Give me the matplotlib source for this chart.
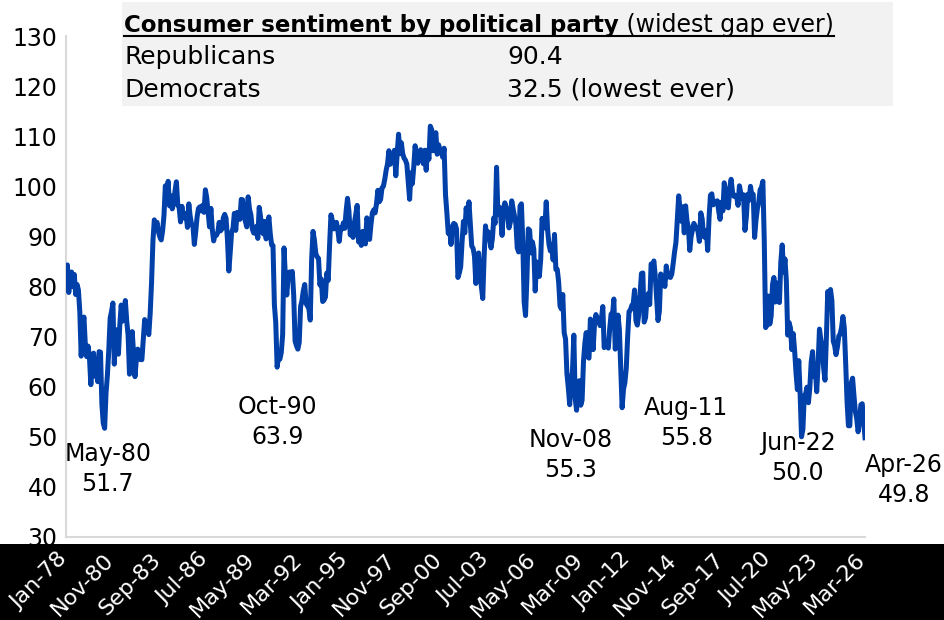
import pandas as pd
import matplotlib.pyplot as plt
from matplotlib.patches import Rectangle
from matplotlib.lines import Line2D
from matplotlib.transforms import ScaledTranslation

plt.rcParams["font.family"] = ["DejaVu Sans"]

# ============================================================
# データ (ミシガン大学 消費者センチメント, 月次)
# ============================================================
START = "1978-01-01"

sentiment = [
    83.7, 84.3, 78.8, 81.6, 82.9, 80.0, 82.4, 78.4, 80.4, 79.3, 75.0, 66.1,    # 1978
    72.1, 73.9, 68.4, 66.0, 68.1, 65.8, 60.4, 64.5, 66.7, 62.1, 63.3, 61.0,    # 1979
    67.0, 66.9, 56.5, 52.7, 51.7, 58.7, 62.3, 67.3, 73.7, 75.0, 76.7, 64.5,    # 1980
    71.4, 66.9, 66.5, 72.4, 76.3, 73.1, 74.1, 77.2, 73.1, 70.3, 62.5, 64.3,    # 1981
    71.0, 66.5, 62.0, 65.5, 67.5, 65.7, 65.4, 65.4, 69.3, 73.4, 72.1, 71.9,    # 1982
    70.4, 74.6, 80.8, 89.1, 93.3, 92.2, 92.8, 90.9, 89.9, 89.3, 91.1, 94.2,    # 1983
    100.1, 97.4, 101.0, 96.1, 98.1, 95.5, 96.6, 99.1, 100.9, 96.3, 95.7, 92.9,  # 1984
    96.0, 93.7, 93.7, 94.6, 91.8, 96.5, 94.0, 92.4, 92.1, 88.4, 90.9, 93.9,    # 1985
    95.6, 95.9, 95.1, 96.2, 94.8, 99.3, 97.7, 94.9, 91.9, 95.6, 91.4, 89.1,    # 1986
    90.4, 90.2, 90.8, 92.8, 91.1, 91.5, 93.7, 94.4, 93.6, 89.3, 83.1, 86.8,    # 1987
    90.8, 91.6, 94.6, 91.2, 94.8, 94.7, 93.4, 97.4, 97.3, 94.1, 93.0, 91.9,    # 1988
    97.9, 95.4, 94.3, 91.5, 90.7, 90.6, 92.0, 89.6, 95.8, 93.9, 90.9, 90.5,    # 1989
    93.0, 89.5, 91.3, 93.9, 90.6, 88.3, 88.2, 76.4, 72.8, 63.9, 66.0, 65.5,    # 1990
    66.8, 70.4, 87.7, 81.8, 78.3, 82.1, 82.9, 82.0, 83.0, 78.3, 69.1, 68.2,    # 1991
    67.5, 68.8, 76.0, 77.2, 79.2, 80.4, 76.6, 76.1, 75.6, 73.3, 85.3, 91.0,    # 1992
    89.3, 86.6, 85.9, 85.6, 80.3, 81.5, 77.0, 77.3, 77.9, 82.7, 81.2, 88.2,    # 1993
    94.3, 93.2, 91.5, 92.6, 92.8, 91.2, 89.0, 91.7, 91.5, 92.7, 91.6, 95.1,    # 1994
    97.6, 95.1, 90.3, 92.5, 89.8, 92.7, 94.4, 96.2, 88.9, 90.2, 88.2, 91.0,    # 1995
    89.3, 88.5, 93.7, 92.7, 89.4, 92.4, 94.7, 95.3, 94.7, 96.5, 99.2, 96.9,    # 1996
    97.4, 99.7, 100.0, 101.4, 103.2, 104.5, 107.1, 104.4, 106.0, 105.6, 107.2, 102.1,  # 1997
    106.6, 110.4, 106.5, 108.7, 106.5, 105.6, 105.2, 104.4, 100.9, 97.4, 102.7, 100.5,  # 1998
    103.9, 108.1, 105.7, 104.6, 106.8, 107.3, 106.0, 104.5, 107.2, 103.2, 107.2, 105.4,  # 1999
    112.0, 111.3, 107.1, 109.2, 110.7, 106.4, 108.3, 107.3, 106.8, 105.8, 107.6, 98.4,  # 2000
    94.7, 90.6, 91.5, 88.4, 92.0, 92.6, 92.4, 91.5, 81.8, 82.7, 83.9, 88.8,    # 2001
    93.0, 90.7, 95.7, 93.0, 96.9, 92.4, 88.1, 87.6, 86.1, 80.6, 84.2, 86.7,    # 2002
    82.4, 79.9, 77.6, 86.0, 92.1, 89.7, 90.9, 89.3, 87.7, 89.6, 93.7, 92.6,    # 2003
    103.8, 94.4, 95.8, 94.2, 90.2, 95.6, 96.7, 95.9, 94.2, 91.7, 92.8, 97.1,   # 2004
    95.5, 94.1, 92.6, 87.7, 86.9, 96.0, 96.5, 89.1, 76.9, 74.2, 81.6, 91.5,    # 2005
    91.2, 86.7, 88.9, 87.4, 79.1, 84.9, 84.7, 82.0, 85.4, 93.6, 92.1, 91.7,    # 2006
    96.9, 91.3, 88.4, 87.1, 88.3, 85.3, 90.4, 83.4, 83.4, 80.9, 76.1, 75.5,    # 2007
    78.4, 70.8, 69.5, 62.6, 59.8, 56.4, 61.2, 63.0, 70.3, 57.6, 55.3, 60.1,    # 2008
    61.2, 56.3, 57.3, 65.1, 68.7, 70.8, 66.0, 65.7, 73.5, 70.6, 67.4, 72.5,    # 2009
    74.4, 73.6, 73.6, 72.2, 73.6, 76.0, 67.8, 68.9, 68.2, 67.7, 71.6, 74.5,    # 2010
    74.2, 77.5, 67.5, 69.8, 74.3, 71.5, 63.7, 55.8, 59.5, 60.8, 63.7, 69.9,    # 2011
    75.0, 75.3, 76.2, 76.4, 79.3, 73.2, 72.3, 74.3, 78.3, 82.6, 82.7, 72.9,    # 2012
    73.8, 77.6, 78.6, 76.4, 84.5, 84.1, 85.1, 82.1, 77.5, 73.2, 75.1, 82.5,    # 2013
    81.2, 81.6, 80.0, 84.1, 81.9, 82.5, 81.8, 82.5, 84.6, 86.9, 88.8, 93.6,    # 2014
    98.1, 95.4, 93.0, 95.9, 90.7, 96.1, 93.1, 91.9, 87.2, 90.0, 91.3, 92.6,    # 2015
    92.0, 91.7, 91.0, 89.0, 94.7, 93.5, 90.0, 89.8, 91.2, 87.2, 93.8, 98.2,    # 2016
    98.5, 96.3, 96.9, 97.0, 97.1, 95.0, 93.4, 96.8, 95.1, 100.7, 98.5, 95.9,   # 2017
    95.7, 99.7, 101.4, 98.8, 98.0, 98.2, 97.9, 96.2, 100.1, 98.6, 97.5, 98.3,  # 2018
    91.2, 93.8, 98.4, 97.2, 100.0, 98.2, 98.4, 89.8, 93.2, 95.5, 96.8, 99.3,   # 2019
    99.8, 101.0, 89.1, 71.8, 72.3, 78.1, 72.5, 74.1, 80.4, 81.8, 76.9, 80.7,   # 2020
    79.0, 76.8, 84.9, 88.3, 82.9, 85.5, 81.2, 70.3, 72.8, 71.7, 67.4, 70.6,    # 2021
    67.2, 62.8, 59.4, 65.2, 58.4, 50.0, 51.5, 58.2, 58.6, 59.9, 56.8, 59.7,    # 2022
    64.9, 67.0, 62.0, 63.7, 59.0, 64.4, 71.5, 69.4, 67.9, 63.8, 61.3, 69.7,    # 2023
    79.0, 76.9, 79.4, 77.2, 69.1, 68.2, 66.4, 67.9, 70.1, 70.5, 71.8, 74.0,    # 2024
    71.7, 64.7, 57.0, 52.2, 52.2, 60.7, 61.7, 58.2, 55.1, 53.6, 51.0, 52.9,    # 2025
    56.4, 56.6, 53.3, 49.8,                                                    # 2026
]

# 注記する月
ann_months = ["1980-05", "1990-10", "2008-11", "2011-08", "2022-06", "2026-04"]

# 政党別の表
party_names = ["Republicans", "Democrats"]
party_values = ["90.4", "32.5 (lowest ever)"]
table_title = "Consumer sentiment by political party"
table_note = " (widest gap ever)"

TICK_STEP = 34
LINE_COLOR = "#0040A8"
AXIS_COLOR = "#d9d9d9"

W, H = 944, 620


def fx(px):
    return px / W


def fy(py):
    return 1 - py / H


dates = pd.date_range(START, periods=len(sentiment), freq="MS")
idx = list(range(len(sentiment)))

# ============================================================
# 図
# ============================================================
fig = plt.figure(figsize=(W / 100, H / 100), dpi=100)
ax = fig.add_axes([fx(66), fy(537), fx(865) - fx(66), fy(36) - fy(537)])

# 下の黒帯
fig.patches.append(
    Rectangle((0, 0), 1, fy(544), transform=fig.transFigure,
              facecolor="black", edgecolor="none", zorder=-1)
)

ax.plot(idx, sentiment, color=LINE_COLOR, lw=3.6, solid_joinstyle="round",
        zorder=3)

ax.set_xlim(0, len(sentiment) - 1)
ax.set_ylim(30, 130)
ax.set_yticks(range(30, 131, 10))
ax.tick_params(axis="y", length=0, pad=6, labelsize=17)

tick_pos = idx[::TICK_STEP]
ax.set_xticks(tick_pos)
ax.set_xticklabels([dates[i].strftime("%b-%y") for i in tick_pos],
                   rotation=45, ha="right", va="center",
                   rotation_mode="anchor", color="white", fontsize=16)
ax.tick_params(axis="x", length=0, pad=14)
shift = ScaledTranslation(-2 / 100, 0, fig.dpi_scale_trans)
for lab in ax.get_xticklabels():
    lab.set_transform(lab.get_transform() + shift)

for s in ["top", "right"]:
    ax.spines[s].set_visible(False)
for s in ["left", "bottom"]:
    ax.spines[s].set_color(AXIS_COLOR)
    ax.spines[s].set_linewidth(1.5)

# 注記 (オフセットはピクセル)
ann_offsets_px = [(3, -41), (0, -55), (-6, -45), (64, -15), (-4, -21),
                  (39, -42)]
for m, (dx, dy) in zip(ann_months, ann_offsets_px):
    i = dates.get_loc(pd.Timestamp(m + "-01"))
    v = sentiment[i]
    ax.annotate(
        f"{dates[i].strftime('%b-%y')}\n{v:.1f}",
        xy=(i, v),
        xytext=(dx * 0.72, dy * 0.72),
        textcoords="offset points",
        ha="center",
        va="center",
        fontsize=17,
        linespacing=1.3,
        annotation_clip=False,
    )

# ============================================================
# 上の表
# ============================================================
fig.patches.append(
    Rectangle((fx(122), fy(106)), fx(893) - fx(122), fy(2) - fy(106),
              transform=fig.transFigure, facecolor="#f2f2f2",
              edgecolor="none", zorder=1)
)

t1 = fig.text(fx(124), fy(32), table_title, fontsize=16.5, fontweight="bold",
              va="baseline", ha="left", zorder=2)
fig.canvas.draw()
r = fig.canvas.get_renderer()
bb1 = t1.get_window_extent(r)
t2 = fig.text(bb1.x1 / W, fy(32), table_note, fontsize=17,
              va="baseline", ha="left", zorder=2)
bb2 = t2.get_window_extent(r)
fig.lines.append(
    Line2D([bb1.x0 / W, bb2.x1 / W], [fy(35.5), fy(35.5)],
           transform=fig.transFigure, color="black", lw=1.5, zorder=2)
)

for k, (name, val) in enumerate(zip(party_names, party_values)):
    yb = 64 + k * 33
    fig.text(fx(124), fy(yb), name, fontsize=18, va="baseline", zorder=2)
    fig.text(fx(507), fy(yb), val, fontsize=18, va="baseline", zorder=2)

fig.savefig("out.png", dpi=100)
